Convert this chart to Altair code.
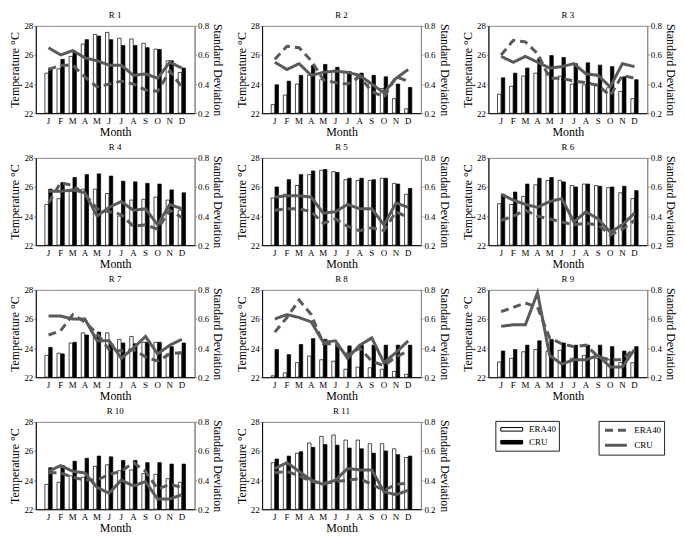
import altair as alt
import pandas as pd

FONT = "Liberation Serif"
LINE_GREY = "#5a5a5a"

MONTHS = ["J", "F", "M", "A", "M", "J", "J", "A", "S", "O", "N", "D"]
SERIES = ["ERA40", "CRU"]
REGIONS = ["R 1", "R 2", "R 3", "R 4", "R 5", "R 6", "R 7", "R 8", "R 9", "R 10", "R 11"]

ERA40_TEMP = [
    [24.75, 25.05, 25.9, 26.75, 27.4, 27.55, 27.15, 27.1, 26.8, 26.4, 25.6, 24.8],
    [22.6, 23.25, 24.0, 24.6, 24.3, 24.9, 24.8, 24.5, 24.05, 23.7, 23.0, 22.3],
    [23.3, 23.85, 24.55, 24.75, 24.8, 24.55, 24.0, 23.95, 24.0, 23.75, 23.5, 23.0],
    [24.8, 25.2, 25.7, 25.85, 25.85, 25.55, 24.0, 25.1, 25.15, 25.3, 25.1, 24.4],
    [25.25, 25.5, 26.1, 26.85, 27.15, 27.05, 26.5, 26.45, 26.45, 26.6, 26.25, 25.5],
    [24.85, 24.8, 25.35, 26.15, 26.45, 26.45, 26.1, 26.2, 26.1, 25.95, 25.6, 25.2],
    [23.5, 23.65, 24.35, 25.05, 24.9, 25.05, 24.6, 24.8, 24.4, 24.4, 23.6, 23.6],
    [22.1, 22.3, 23.0, 23.45, 23.2, 23.1, 22.55, 22.7, 22.65, 22.55, 22.4, 22.2],
    [23.05, 23.3, 23.75, 23.9, 23.8, 23.85, 23.3, 23.5, 23.3, 23.2, 23.0, 23.0],
    [23.7, 23.85, 24.3, 24.2, 24.95, 25.05, 24.65, 24.7, 24.45, 24.4, 24.1, 23.85],
    [25.2, 25.1, 25.85, 26.55, 27.0, 27.1, 26.75, 26.75, 26.5, 26.5, 26.15, 25.55],
]
CRU_TEMP = [
    [25.1, 25.7, 26.25, 27.05, 27.3, 27.05, 26.65, 26.65, 26.5, 26.38, 25.6, 25.1],
    [23.95, 24.2, 24.6, 25.28, 25.35, 25.15, 24.85, 24.75, 24.6, 24.5, 24.0, 23.77],
    [24.43, 24.75, 25.1, 25.74, 25.96, 25.83, 25.4, 25.46, 25.3, 25.2, 24.5, 24.3],
    [25.85, 26.3, 26.65, 26.85, 26.9, 26.75, 26.4, 26.35, 26.25, 26.2, 25.8, 25.6],
    [26.0, 26.5, 26.85, 27.1, 27.2, 27.0, 26.6, 26.6, 26.5, 26.6, 26.2, 25.9],
    [25.5, 25.65, 26.2, 26.6, 26.65, 26.35, 26.0, 26.2, 26.05, 26.0, 26.05, 25.75],
    [24.05, 23.6, 24.4, 24.9, 25.1, 24.3, 24.35, 24.3, 24.4, 24.4, 24.1, 24.35],
    [23.9, 23.55, 24.25, 24.65, 24.6, 24.3, 24.15, 24.2, 24.2, 24.2, 24.2, 24.2],
    [23.8, 23.9, 24.2, 24.5, 24.6, 24.35, 24.2, 24.2, 24.2, 24.1, 23.8, 24.1],
    [24.85, 25.0, 25.3, 25.5, 25.65, 25.6, 25.35, 25.35, 25.2, 25.2, 25.1, 25.1],
    [25.45, 25.65, 25.95, 26.25, 26.45, 26.4, 26.2, 26.15, 25.85, 26.0, 25.75, 25.65],
]
ERA40_SD = [
    [0.50, 0.53, 0.53, 0.45, 0.38, 0.40, 0.42, 0.40, 0.36, 0.35, 0.49, 0.38],
    [0.57, 0.66, 0.65, 0.56, 0.43, 0.41, 0.40, 0.45, 0.35, 0.31, 0.45, 0.42],
    [0.60, 0.70, 0.69, 0.61, 0.44, 0.44, 0.42, 0.41, 0.39, 0.32, 0.46, 0.44],
    [0.49, 0.63, 0.61, 0.55, 0.45, 0.43, 0.41, 0.33, 0.34, 0.31, 0.44, 0.39],
    [0.44, 0.45, 0.45, 0.43, 0.35, 0.38, 0.33, 0.30, 0.32, 0.30, 0.43, 0.39],
    [0.37, 0.40, 0.44, 0.40, 0.38, 0.36, 0.34, 0.35, 0.34, 0.27, 0.31, 0.37],
    [0.49, 0.52, 0.63, 0.58, 0.50, 0.39, 0.38, 0.39, 0.34, 0.31, 0.36, 0.37],
    [0.51, 0.61, 0.73, 0.63, 0.43, 0.43, 0.35, 0.40, 0.31, 0.28, 0.34, 0.38],
    [0.65, 0.68, 0.71, 0.68, 0.47, 0.43, 0.41, 0.42, 0.34, 0.32, 0.32, 0.40],
    [0.45, 0.45, 0.42, 0.40, 0.40, 0.44, 0.46, 0.52, 0.46, 0.34, 0.37, 0.35],
    [0.45, 0.46, 0.43, 0.39, 0.38, 0.39, 0.40, 0.41, 0.37, 0.33, 0.37, 0.38],
]
CRU_SD = [
    [0.65, 0.60, 0.63, 0.58, 0.56, 0.53, 0.53, 0.46, 0.47, 0.44, 0.55, 0.51],
    [0.55, 0.50, 0.54, 0.46, 0.48, 0.49, 0.48, 0.46, 0.40, 0.34, 0.44, 0.50],
    [0.59, 0.55, 0.59, 0.55, 0.51, 0.52, 0.54, 0.47, 0.46, 0.38, 0.54, 0.52],
    [0.57, 0.57, 0.58, 0.56, 0.40, 0.46, 0.50, 0.44, 0.45, 0.34, 0.48, 0.45],
    [0.53, 0.54, 0.54, 0.53, 0.42, 0.43, 0.48, 0.45, 0.45, 0.34, 0.49, 0.46],
    [0.55, 0.51, 0.48, 0.46, 0.50, 0.52, 0.36, 0.43, 0.38, 0.29, 0.34, 0.42],
    [0.62, 0.62, 0.60, 0.60, 0.45, 0.45, 0.33, 0.40, 0.48, 0.36, 0.42, 0.46],
    [0.60, 0.63, 0.61, 0.58, 0.44, 0.45, 0.33, 0.42, 0.47, 0.30, 0.37, 0.45],
    [0.55, 0.56, 0.56, 0.78, 0.35, 0.29, 0.32, 0.32, 0.35, 0.27, 0.27, 0.39],
    [0.46, 0.50, 0.46, 0.45, 0.35, 0.31, 0.40, 0.36, 0.39, 0.27, 0.27, 0.30],
    [0.48, 0.52, 0.46, 0.40, 0.37, 0.40, 0.48, 0.47, 0.47, 0.32, 0.30, 0.33],
]

W, H = 160, 88
label_expr = "[" + ",".join("'%s'" % m for m in MONTHS) + "][datum.value - 1]"
DASHES = [[8, 5], [1, 0]]


def panel(k):
    t_rows, s_rows = [], []
    for m in range(12):
        t_rows.append({"month": m + 1, "series": "ERA40", "temp": ERA40_TEMP[k][m]})
        t_rows.append({"month": m + 1, "series": "CRU", "temp": CRU_TEMP[k][m]})
        s_rows.append({"month": m + 1, "series": "ERA40", "sd": ERA40_SD[k][m]})
        s_rows.append({"month": m + 1, "series": "CRU", "sd": CRU_SD[k][m]})
    dft = pd.DataFrame(t_rows)
    dfs = pd.DataFrame(s_rows)

    x = alt.X(
        "month:O",
        title="Month",
        scale=alt.Scale(paddingInner=0.4, paddingOuter=0.75),
        axis=alt.Axis(labelExpr=label_expr, labelAngle=0, ticks=False,
                      domainColor="black", labelPadding=3, titlePadding=1),
    )
    bars = alt.Chart(dft).mark_bar(stroke="black", strokeWidth=0.7).encode(
        x=x,
        xOffset=alt.XOffset("series:N", sort=SERIES,
                            scale=alt.Scale(domain=SERIES, paddingInner=0.1)),
        y=alt.Y("temp:Q", scale=alt.Scale(domain=[22, 28], nice=False, zero=False),
                axis=alt.Axis(values=[22, 24, 26, 28], title="Temperature °C",
                              domainColor="black", tickSize=2, titlePadding=2,
                              labelPadding=1)),
        y2=alt.datum(22),
        fill=alt.Fill("series:N", scale=alt.Scale(domain=SERIES, range=["white", "black"]),
                      legend=None),
    )
    lines = alt.Chart(dfs).mark_line(strokeWidth=3, color=LINE_GREY).encode(
        x=alt.X("month:O"),
        y=alt.Y("sd:Q", scale=alt.Scale(domain=[0.2, 0.8], nice=False, zero=False),
                axis=alt.Axis(orient="right", values=[0.2, 0.4, 0.6, 0.8], format=".1f",
                              title="Standard Deviation", domainColor="#888",
                              tickSize=2, titlePadding=2, labelPadding=1)),
        strokeDash=alt.StrokeDash("series:N",
                                  scale=alt.Scale(domain=SERIES, range=DASHES),
                                  legend=None),
    )
    return (
        alt.layer(bars, lines)
        .resolve_scale(y="independent")
        .properties(width=W, height=H,
                    title=alt.TitleParams(REGIONS[k], fontSize=9, font=FONT,
                                          fontWeight="normal", offset=2))
    )


panels = [panel(k) for k in range(len(REGIONS))]

LEG_COMMON = dict(title=None, orient="none", legendY=-1, symbolSize=100,
                  symbolOpacity=1, strokeColor="#222", padding=3,
                  labelFontSize=9, labelFont=FONT, rowPadding=2,
                  symbolOffset=8, labelOffset=12, labelColor="black")

leg_bar = alt.Chart(pd.DataFrame({"bars": SERIES})).mark_point(
    opacity=0, shape="square", filled=True
).encode(
    fill=alt.Fill(
        "bars:N",
        scale=alt.Scale(domain=SERIES, range=["white", "black"]),
        legend=alt.Legend(legendX=7, symbolType="M-2.2,-0.36H2.2V0.36H-2.2Z",
                          symbolStrokeColor="black", symbolStrokeWidth=1,
                          **LEG_COMMON),
    )
)
line_keys = [s + "_sd" for s in SERIES]
leg_line = alt.Chart(pd.DataFrame({"lines": line_keys})).mark_line(
    opacity=0, strokeWidth=3, color=LINE_GREY
).encode(
    strokeDash=alt.StrokeDash(
        "lines:N",
        scale=alt.Scale(domain=line_keys, range=DASHES),
        legend=alt.Legend(legendX=111, symbolType="M-2.2,0H2.2",
                          symbolStrokeColor=LINE_GREY, symbolStrokeWidth=3,
                          labelExpr="replace(datum.label, '_sd', '')",
                          **LEG_COMMON),
    )
)
legend_cell = alt.layer(leg_bar, leg_line).properties(
    width=W, height=H, view=alt.ViewBackground(strokeOpacity=0)
)

chart = (
    alt.concat(*panels, legend_cell, columns=3, bounds="flush",
               spacing={"row": 45, "column": 68})
    .resolve_scale(fill="independent", strokeDash="independent")
    .properties(padding=0)
    .configure_view(stroke="#888", strokeWidth=1)
    .configure_axis(grid=False, labelFont=FONT, titleFont=FONT, labelFontSize=9,
                    titleFontSize=12, titleFontWeight="normal", labelColor="black",
                    titleColor="black")
    .configure_legend(labelFont=FONT, strokeColor="#222")
)

chart.save("out.html", embed_options={"renderer": "svg", "actions": False})
